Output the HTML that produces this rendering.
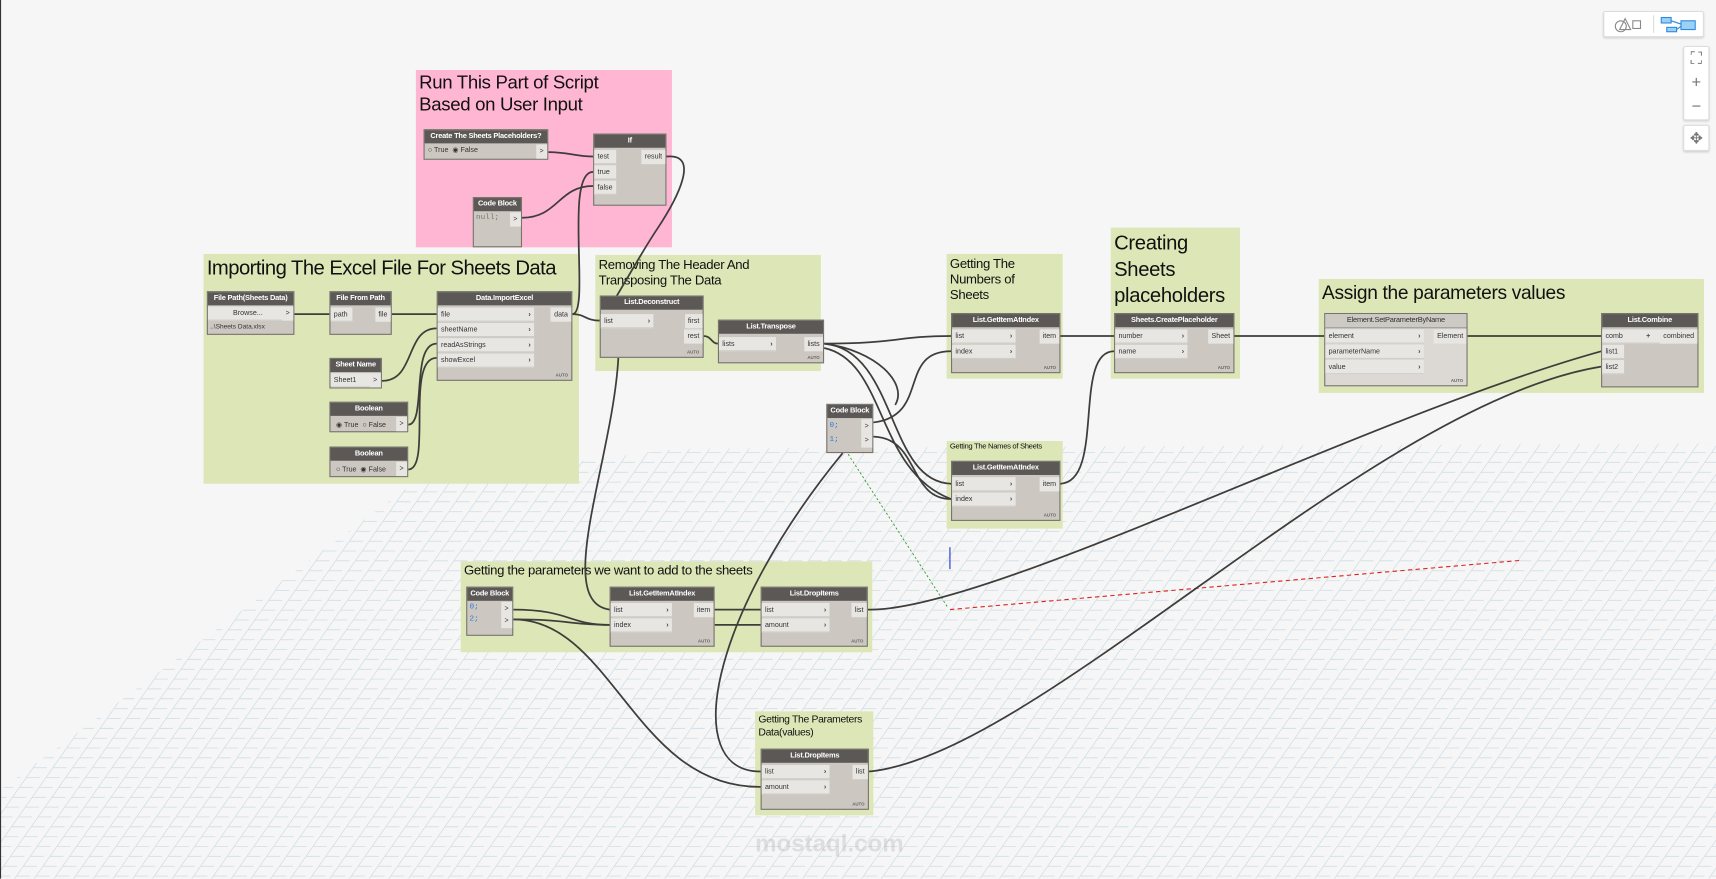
<!DOCTYPE html>
<html><head><meta charset="utf-8"><style>
html,body{margin:0;padding:0;width:1716px;height:879px;overflow:hidden;background:#f6f6f6}
#w{position:absolute;left:0;top:0;width:1568px;height:803px;transform:scale(1.09439);transform-origin:0 0;font-family:"Liberation Sans",sans-serif}
.g{position:absolute;background:#dce6b6}
.g.p{background:#ffb6d2}
.gt{position:absolute;left:3px;top:2px;color:#111;line-height:1.15;white-space:nowrap;letter-spacing:-0.3px}
.n{position:absolute;background:#ccc8c1;border:1px solid #77736d;box-sizing:border-box;font-size:6.5px;color:#333}
.h{background:#5b5856;color:#fff;font-weight:bold;text-align:center;height:12px;line-height:12px;font-size:6.8px;white-space:nowrap;overflow:hidden;letter-spacing:-0.2px}
.h.l{background:#cdc9c3;color:#333;font-weight:normal;border-bottom:1px solid #999}
.i{position:absolute;left:0;background:#e8e6e2;height:13px;line-height:13px;padding-left:3px;box-sizing:border-box;border-bottom:1px solid #d0cdc8}
.i b{position:absolute;right:3px;top:0;font-weight:bold;color:#444}
.o{position:absolute;right:0;background:#e8e6e2;height:13px;line-height:13px;padding:0 3px;box-sizing:border-box}
.a{position:absolute;right:3px;bottom:2px;font-size:4px;font-weight:bold;color:#666}
.cb{color:#2a7ad8;font-family:"Liberation Mono",monospace;font-size:7px}
svg{position:absolute;left:0;top:0}
.btn{position:absolute;background:#fff;border:1px solid #ddd;border-radius:2px;box-shadow:0 1px 2px rgba(0,0,0,.15);color:#777;text-align:center}
</style></head><body><div id="w">
<svg width="1568" height="803">
<defs><pattern id="gr" width="18" height="9" patternUnits="userSpaceOnUse" patternTransform="skewX(-35)">
<path d="M0 8.5H12M17.5 0V9" stroke="#b4cddc" stroke-width="0.7" fill="none"/></pattern></defs>
<polygon points="0,722 380,440 620,410 1568,405 1568,803 0,803" fill="url(#gr)" opacity="0.7"/>
<line x1="0.5" y1="0" x2="0.5" y2="803" stroke="#333"/>
</svg>

<div class="g p" style="left:380px;top:64px;width:234px;height:162px"><div class="gt" style="font-size:17px">Run This Part of Script<br>Based on User Input</div></div>
<div class="g" style="left:186px;top:232px;width:343px;height:210px"><div class="gt" style="font-size:18.5px;letter-spacing:-0.5px">Importing The Excel File For Sheets Data</div></div>
<div class="g" style="left:544px;top:233px;width:206px;height:106px"><div class="gt" style="font-size:12px;line-height:14px">Removing The Header And<br>Transposing The Data</div></div>
<div class="g" style="left:865px;top:232px;width:106px;height:114px"><div class="gt" style="font-size:12px;line-height:14px">Getting The<br>Numbers of<br>Sheets</div></div>
<div class="g" style="left:1015px;top:208px;width:118px;height:138px"><div class="gt" style="font-size:18.5px;line-height:24px">Creating<br>Sheets<br>placeholders</div></div>
<div class="g" style="left:1205px;top:255px;width:352px;height:104px"><div class="gt" style="font-size:17.5px">Assign the parameters values</div></div>
<div class="g" style="left:865px;top:403px;width:106px;height:80px"><div class="gt" style="font-size:7px">Getting The Names of Sheets</div></div>
<div class="g" style="left:421px;top:513px;width:376px;height:83px"><div class="gt" style="font-size:12px">Getting the parameters we want to add to the sheets</div></div>
<div class="g" style="left:690px;top:650px;width:108px;height:95px"><div class="gt" style="font-size:9.5px;line-height:12px">Getting The Parameters<br>Data(values)</div></div>

<svg width="1568" height="803" fill="none" stroke="#3f3d3b" stroke-width="1.6">
<line x1="868" y1="557" x2="1390" y2="512" stroke="#e02020" stroke-width="1" stroke-dasharray="4,3"/>
<line x1="775" y1="415" x2="866" y2="555" stroke="#2a9a2a" stroke-width="0.8" stroke-dasharray="2,2"/>
<line x1="868" y1="500" x2="868" y2="520" stroke="#2030d0" stroke-width="1"/>
<path d="M501 139C520 139 525 143 542 143"/>
<path d="M477 199C510 199 510 170 542 170"/>
<path d="M523 287C540 287 515 157 542 157"/>
<path d="M609 143C640 140 620 180 600 210S560 280 548 293"/>
<path d="M269 287H301"/><path d="M358 287H399"/>
<path d="M349 348C380 348 370 300 399 300"/>
<path d="M373 388C390 388 375 314 399 314"/>
<path d="M373 429C395 429 370 327 399 327"/>
<path d="M523 287C535 287 535 293 548 293"/>
<path d="M565 327C560 420 505 550 557 557"/>
<path d="M643 307C650 307 650 314 656 314"/>
<path d="M753 314C820 314 820 307 869 307"/>
<path d="M753 314C820 320 810 440 869 442"/>
<path d="M753 314C800 320 830 350 818 370"/>
<path d="M753 318C810 330 800 430 869 456"/>
<path d="M798 386C850 380 820 321 869 321"/>
<path d="M798 399C840 400 830 456 869 456"/>
<path d="M969 307H1018"/>
<path d="M969 442C1010 440 980 321 1018 321"/>
<path d="M1128 307H1210"/>
<path d="M1341 307H1463"/>
<path d="M793 557C900 560 1250 380 1463 321"/>
<path d="M794 705C950 690 1250 370 1463 335"/>
<path d="M469 557C520 557 520 571 557 571"/>
<path d="M469 566C520 566 520 571 557 571"/>
<path d="M469 566C560 566 580 720 695 719"/>
<path d="M653 557H695"/><path d="M653 571C680 571 670 571 695 571"/>
<path d="M770 414C650 560 620 705 695 705"/>
</svg>

<div class="n" style="left:387px;top:118px;width:114px;height:28px"><div class="h">Create The Sheets Placeholders?</div><div style="position:absolute;left:3px;top:14px">○ True &nbsp;◉ False</div><div class="o" style="top:13px;width:10px">&gt;</div></div>
<div class="n" style="left:542px;top:122px;width:67px;height:66px"><div class="h">If</div><div class="i" style="top:14px;width:20px">test</div><div class="i" style="top:28px;width:20px">true</div><div class="i" style="top:42px;width:20px">false</div><div class="o" style="top:14px">result</div></div>
<div class="n" style="left:432px;top:180px;width:45px;height:46px"><div class="h">Code Block</div><div class="cb" style="position:absolute;left:2px;top:14px;color:#777">null;</div><div class="o" style="top:13px;width:10px">&gt;</div></div>

<div class="n" style="left:189px;top:266px;width:80px;height:40px"><div class="h">File Path(Sheets Data)</div><div class="i" style="top:13px;width:70px;text-align:center">Browse...</div><div class="o" style="top:13px;width:10px">&gt;</div><div style="position:absolute;left:2px;top:29px;font-size:6px">..\Sheets Data.xlsx</div></div>
<div class="n" style="left:301px;top:266px;width:57px;height:40px"><div class="h">File From Path</div><div class="i" style="top:14px;width:20px">path</div><div class="o" style="top:14px">file</div></div>
<div class="n" style="left:399px;top:266px;width:124px;height:82px"><div class="h">Data.ImportExcel</div><div class="i" style="top:14px;width:88px">file<b>›</b></div><div class="i" style="top:28px;width:88px">sheetName<b>›</b></div><div class="i" style="top:42px;width:88px">readAsStrings<b>›</b></div><div class="i" style="top:56px;width:88px">showExcel<b>›</b></div><div class="o" style="top:14px">data</div><div class="a">AUTO</div></div>
<div class="n" style="left:301px;top:327px;width:48px;height:28px"><div class="h">Sheet Name</div><div class="i" style="top:13px;width:38px">Sheet1</div><div class="o" style="top:13px;width:10px">&gt;</div></div>
<div class="n" style="left:301px;top:367px;width:72px;height:28px"><div class="h">Boolean</div><div style="position:absolute;left:5px;top:16px">◉ True &nbsp;○ False</div><div class="o" style="top:13px;width:10px">&gt;</div></div>
<div class="n" style="left:301px;top:408px;width:72px;height:28px"><div class="h">Boolean</div><div style="position:absolute;left:5px;top:16px">○ True &nbsp;◉ False</div><div class="o" style="top:13px;width:10px">&gt;</div></div>

<div class="n" style="left:548px;top:270px;width:95px;height:57px"><div class="h">List.Deconstruct</div><div class="i" style="top:16px;width:48px">list<b>›</b></div><div class="o" style="top:16px">first</div><div class="o" style="top:30px">rest</div><div class="a">AUTO</div></div>
<div class="n" style="left:656px;top:292px;width:97px;height:40px"><div class="h">List.Transpose</div><div class="i" style="top:15px;width:52px">lists<b>›</b></div><div class="o" style="top:15px">lists</div><div class="a">AUTO</div></div>
<div class="n" style="left:869px;top:286px;width:100px;height:55px"><div class="h">List.GetItemAtIndex</div><div class="i" style="top:14px;width:58px">list<b>›</b></div><div class="i" style="top:28px;width:58px">index<b>›</b></div><div class="o" style="top:14px">item</div><div class="a">AUTO</div></div>
<div class="n" style="left:1018px;top:286px;width:110px;height:55px"><div class="h">Sheets.CreatePlaceholder</div><div class="i" style="top:14px;width:66px">number<b>›</b></div><div class="i" style="top:28px;width:66px">name<b>›</b></div><div class="o" style="top:14px">Sheet</div><div class="a">AUTO</div></div>
<div class="n" style="left:1210px;top:286px;width:131px;height:67px;background:#dcd9d4"><div class="h l">Element.SetParameterByName</div><div class="i" style="top:14px;width:90px">element<b>›</b></div><div class="i" style="top:28px;width:90px">parameterName<b>›</b></div><div class="i" style="top:42px;width:90px">value<b>›</b></div><div class="o" style="top:14px">Element</div><div class="a">AUTO</div></div>
<div class="n" style="left:1463px;top:286px;width:89px;height:68px"><div class="h">List.Combine</div><div class="i" style="top:14px;width:58px">comb<b style="right:14px">+</b><b>-</b></div><div class="o" style="top:14px">combined</div><div class="i" style="top:28px;width:20px">list1</div><div class="i" style="top:42px;width:20px">list2</div></div>
<div class="n" style="left:755px;top:369px;width:43px;height:45px"><div class="h">Code Block</div><div class="cb" style="position:absolute;left:2px;top:13px;line-height:13px">0;<br>1;</div><div class="o" style="top:13px;width:10px">&gt;</div><div class="o" style="top:26px;width:10px">&gt;</div></div>
<div class="n" style="left:869px;top:421px;width:100px;height:55px"><div class="h">List.GetItemAtIndex</div><div class="i" style="top:14px;width:58px">list<b>›</b></div><div class="i" style="top:28px;width:58px">index<b>›</b></div><div class="o" style="top:14px">item</div><div class="a">AUTO</div></div>
<div class="n" style="left:426px;top:536px;width:43px;height:45px"><div class="h">Code Block</div><div class="cb" style="position:absolute;left:2px;top:13px;line-height:11px">0;<br>2;</div><div class="o" style="top:13px;width:10px">&gt;</div><div class="o" style="top:24px;width:10px">&gt;</div></div>
<div class="n" style="left:557px;top:536px;width:96px;height:55px"><div class="h">List.GetItemAtIndex</div><div class="i" style="top:14px;width:56px">list<b>›</b></div><div class="i" style="top:28px;width:56px">index<b>›</b></div><div class="o" style="top:14px">item</div><div class="a">AUTO</div></div>
<div class="n" style="left:695px;top:536px;width:98px;height:55px"><div class="h">List.DropItems</div><div class="i" style="top:14px;width:62px">list<b>›</b></div><div class="i" style="top:28px;width:62px">amount<b>›</b></div><div class="o" style="top:14px">list</div><div class="a">AUTO</div></div>
<div class="n" style="left:695px;top:684px;width:99px;height:56px"><div class="h">List.DropItems</div><div class="i" style="top:14px;width:62px">list<b>›</b></div><div class="i" style="top:28px;width:62px">amount<b>›</b></div><div class="o" style="top:14px">list</div><div class="a">AUTO</div></div>

<div style="position:absolute;left:690px;top:758px;font-size:22px;font-weight:bold;color:rgba(150,150,150,.25)">mostaql.com</div>

<div class="btn" style="left:1465px;top:10px;width:90px;height:22px">
<svg width="90" height="22" style="position:static"><circle cx="15" cy="13" r="5" fill="none" stroke="#888"/><path d="M14 16L19 6L24 16Z" fill="none" stroke="#888"/><rect x="26" y="8" width="7" height="7" fill="none" stroke="#888"/><line x1="45" y1="3" x2="45" y2="19" stroke="#ddd"/><rect x="52" y="5" width="9" height="5" fill="#9cd0f5" stroke="#2a8ae0"/><rect x="57" y="14" width="9" height="4" fill="#9cd0f5" stroke="#2a8ae0"/><rect x="70" y="8" width="13" height="8" fill="#9cd0f5" stroke="#2a8ae0"/><path d="M61 8L70 11M66 16L70 13" stroke="#2a8ae0"/></svg></div>
<div class="btn" style="left:1538px;top:42px;width:22px;height:66px;font-size:15px;line-height:22px">⛶<br>+<br>−</div>
<div class="btn" style="left:1538px;top:114px;width:22px;height:22px;font-size:14px;line-height:22px">✥</div>
</div></body></html>
